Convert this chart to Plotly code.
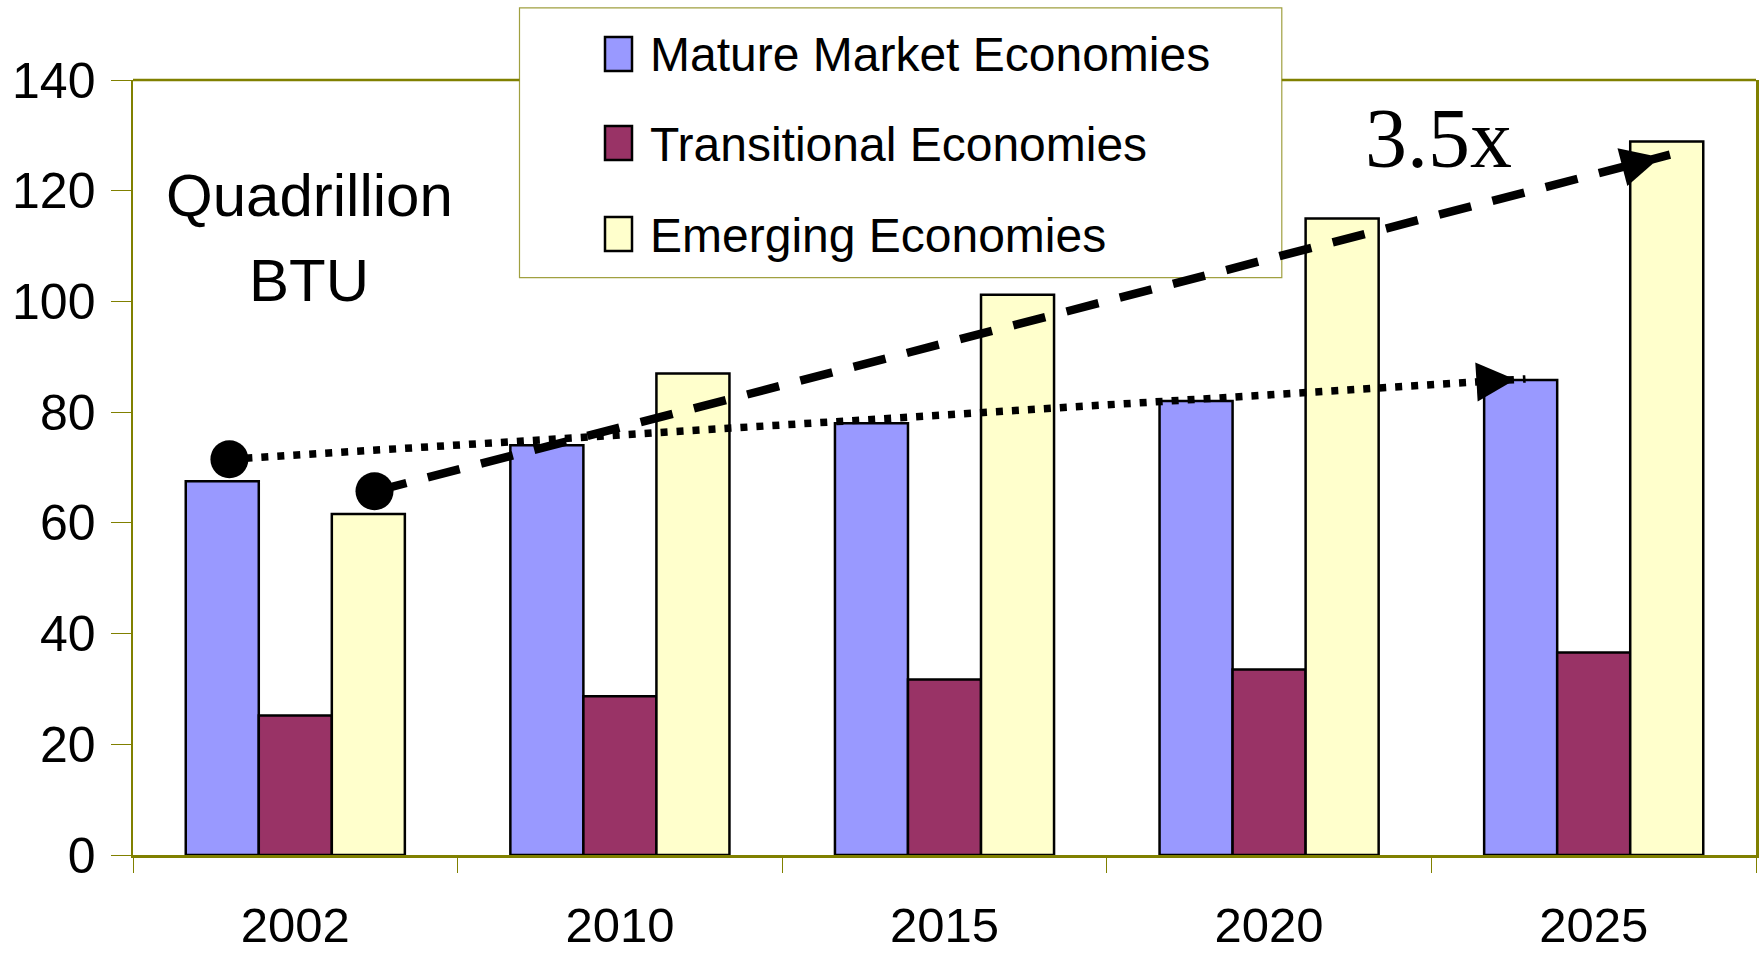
import plotly.graph_objects as go

# ---------------- data ----------------
years = ["2002", "2010", "2015", "2020", "2025"]
mature = [67.5, 74.0, 78.0, 82.0, 85.8]
transitional = [25.2, 28.7, 31.7, 33.5, 36.6]
emerging = [61.6, 87.0, 101.2, 115.0, 128.9]
series_names = ["Mature Market Economies", "Transitional Economies", "Emerging Economies"]
series_colors = ["#9999FF", "#993366", "#FFFFCC"]
y_ticks = [0, 20, 40, 60, 80, 100, 120, 140]

# trend arrows (data coordinates: x = category index, y = value)
dotted_x = [-0.203, 3.79]
dotted_y = [71.5, 86.0]
dashed_x = [0.244, 4.235]
dashed_y = [65.7, 126.5]

# ---------------- layout geometry (pixels) ----------------
W, H = 1763, 953
L, R, T, B = 133, 1756, 80, 854.6
OLIVE = "#808000"


def pxx(p):
    return (p - L) / (R - L)


def pxy(p):
    return (B - p) / (B - T)


xpos = list(range(len(years)))
fig = go.Figure()
for name, vals, col in zip(series_names, [mature, transitional, emerging], series_colors):
    fig.add_trace(go.Bar(
        x=xpos, y=vals, name=name, showlegend=False,
        marker=dict(color=col, line=dict(color="black", width=2.5)),
        hoverinfo="skip",
    ))

# trend lines
fig.add_trace(go.Scatter(x=dotted_x, y=dotted_y, mode="lines", showlegend=False,
                         line=dict(color="black", width=7.5, dash="7px,9px"), hoverinfo="skip"))
fig.add_trace(go.Scatter(x=dashed_x, y=dashed_y, mode="lines", showlegend=False,
                         line=dict(color="black", width=8.5, dash="33px,22px"), hoverinfo="skip"))
# start dots
fig.add_trace(go.Scatter(x=[dotted_x[0], dashed_x[0]], y=[dotted_y[0], dashed_y[0]],
                         mode="markers", showlegend=False, hoverinfo="skip",
                         marker=dict(symbol="circle", size=38, color="black", line=dict(width=0))))

shapes = []
annotations = []

# arrow heads at the end of each trend line
HEAD_SCALE = 7.8
for xs, ys in [(dotted_x, dotted_y), (dashed_x, dashed_y)]:
    f = 0.025
    annotations.append(dict(
        x=xs[1], y=ys[1], xref="x", yref="y",
        ax=xs[1] - f * (xs[1] - xs[0]), ay=ys[1] - f * (ys[1] - ys[0]),
        axref="x", ayref="y", text="", showarrow=True,
        arrowhead=2, arrowwidth=1, arrowsize=HEAD_SCALE, arrowcolor="black",
        standoff=1.3 * HEAD_SCALE,
    ))

# legend box
lg_l, lg_r, lg_t, lg_b = 519.5, 1281.8, 8, 277.5
shapes.append(dict(type="rect", xref="paper", yref="paper", layer="below",
                   x0=pxx(lg_l), x1=pxx(lg_r), y0=pxy(lg_b), y1=pxy(lg_t),
                   line=dict(color="#A0A040", width=1.2), fillcolor="white"))
# top frame segments (interrupted by legend box)
for a, b in [(L, lg_l), (lg_r, R)]:
    shapes.append(dict(type="line", xref="paper", yref="paper", layer="below",
                       x0=pxx(a), x1=pxx(b), y0=1, y1=1,
                       line=dict(color=OLIVE, width=2.5)))

# legend entries
item_y = [54, 143, 234]
for name, col, yc in zip(series_names, series_colors, item_y):
    shapes.append(dict(type="rect", xref="paper", yref="paper", layer="above",
                       x0=pxx(605), x1=pxx(632), y0=pxy(yc + 17), y1=pxy(yc - 17),
                       fillcolor=col, line=dict(color="black", width=2.5)))
    annotations.append(dict(xref="paper", yref="paper", x=pxx(648), y=pxy(yc + 1),
                            xanchor="left", yanchor="middle", showarrow=False,
                            text=name, font=dict(family="Liberation Sans, Arial", size=48, color="black")))

# unit label
annotations.append(dict(xref="paper", yref="paper", x=pxx(309), y=pxy(195),
                        xanchor="center", yanchor="middle", showarrow=False, text="Quadrillion",
                        font=dict(family="Liberation Sans, Arial", size=60, color="black")))
annotations.append(dict(xref="paper", yref="paper", x=pxx(309), y=pxy(280),
                        xanchor="center", yanchor="middle", showarrow=False, text="BTU",
                        font=dict(family="Liberation Sans, Arial", size=60, color="black")))
# growth label
annotations.append(dict(xref="paper", yref="paper", x=pxx(1438), y=pxy(138),
                        xanchor="center", yanchor="middle", showarrow=False, text="3.5x",
                        font=dict(family="Liberation Serif, Times New Roman", size=84, color="black")))

fig.update_layout(
    width=W, height=H,
    margin=dict(l=L, r=W - R, t=T, b=H - B, pad=0),
    paper_bgcolor="white", plot_bgcolor="rgba(0,0,0,0)",
    barmode="group", bargap=0.325, bargroupgap=0,
    shapes=shapes, annotations=annotations,
    showlegend=False,
    font=dict(family="Liberation Sans, Arial", color="black"),
)
fig.update_xaxes(
    range=[-0.5, len(years) - 0.5], tickvals=xpos, ticktext=years,
    ticks="outside", ticklen=0, tickcolor=OLIVE,
    showgrid=False, zeroline=False, automargin=False,
    showline=True, linecolor=OLIVE, linewidth=2.5, mirror=False,
    tickfont=dict(size=49, family="Liberation Sans, Arial", color="black"),
    ticklabelstandoff=26,
    minor=dict(tickvals=[i - 0.5 for i in range(len(years) + 1)], ticks="outside",
               ticklen=15, tickwidth=1, tickcolor=OLIVE, showgrid=False),
)
fig.update_yaxes(
    range=[0, 140], tickvals=y_ticks,
    ticks="outside", ticklen=20, tickwidth=1, tickcolor=OLIVE,
    showgrid=False, zeroline=False, automargin=False,
    showline=True, linecolor=OLIVE, linewidth=2.5, mirror=True,
    tickfont=dict(size=50, family="Liberation Sans, Arial", color="black"),
    ticklabelstandoff=5,
)

fig.write_html("out.html", config={"displayModeBar": False, "staticPlot": True},
               post_script="document.body.style.margin='0';")
